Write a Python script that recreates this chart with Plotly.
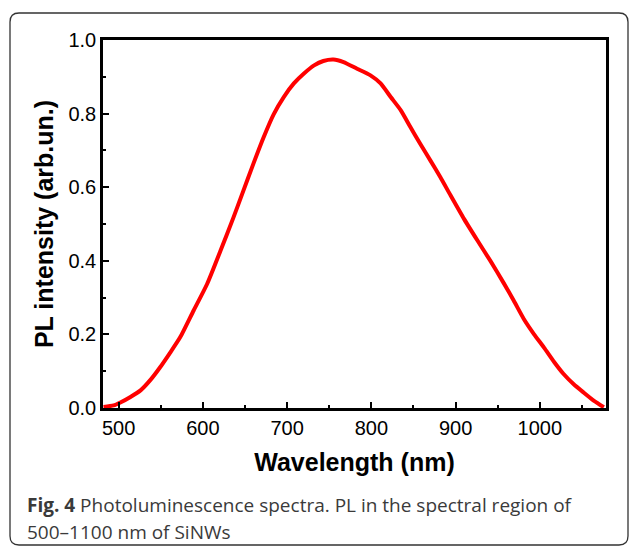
import plotly.graph_objects as go

wavelength = [482, 494, 502, 514, 526, 538, 549, 561, 573, 589, 605, 621, 636, 648,
              660, 672, 684, 696, 708, 720, 732, 743, 755, 767, 783, 799, 811, 823, 835,
              846, 858, 870, 882, 894, 910, 926, 941, 957, 969, 981, 993, 1005,
              1017, 1028, 1040, 1052, 1064, 1076]
intensity = [0.003, 0.007, 0.015, 0.030, 0.048, 0.077, 0.110, 0.150, 0.192, 0.265, 0.337,
             0.428, 0.516, 0.590, 0.664, 0.735, 0.798, 0.845, 0.882, 0.909, 0.931, 0.943,
             0.947, 0.940, 0.922, 0.904, 0.882, 0.845, 0.809, 0.765, 0.718, 0.673, 0.627,
             0.578, 0.514, 0.455, 0.401, 0.340, 0.292, 0.242, 0.201, 0.164, 0.125, 0.093,
             0.065, 0.042, 0.020, 0.002]

x_range = [481.4, 1078.6]
y_range = [0, 1]
x_ticks = [500, 600, 700, 800, 900, 1000]
y_ticks = [0.0, 0.2, 0.4, 0.6, 0.8, 1.0]
y_ticktext = ["0.0", "0.2", "0.4", "0.6", "0.8", "1.0"]

FONT = "Liberation Sans, Arial, Helvetica, sans-serif"

fig = go.Figure()
fig.add_trace(go.Scatter(x=wavelength, y=intensity, mode="lines",
                         line=dict(color="#ff0000", width=4, shape="spline", smoothing=0.6),
                         showlegend=False, hoverinfo="skip"))

W, H = 629, 548
ml, mr, mt, mb = 103, 23, 40, 140
pw, ph = W - ml - mr, H - mt - mb

def px(x):
    return (x - ml) / pw

def py(y):
    return (H - mb - y) / ph

# rounded outer frame
x0, x1 = px(10), px(628)
y1, y0 = py(13), py(545)
rx, ry = 9 / pw, 9 / ph
path = (f"M {x0+rx},{y1} L {x1-rx},{y1} Q {x1},{y1} {x1},{y1-ry} "
        f"L {x1},{y0+ry} Q {x1},{y0} {x1-rx},{y0} L {x0+rx},{y0} "
        f"Q {x0},{y0} {x0},{y0+ry} L {x0},{y1-ry} Q {x0},{y1} {x0+rx},{y1} Z")
fig.add_shape(type="path", path=path, xref="paper", yref="paper",
              line=dict(color="#333333", width=1.3), layer="below")

axis_common = dict(showgrid=False, zeroline=False, showline=True, linecolor="black",
                   linewidth=2.5, mirror=True, ticks="inside", ticklen=6, tickwidth=2,
                   tickcolor="black", tickfont=dict(family=FONT, size=20, color="black"))

fig.update_xaxes(range=x_range, tickvals=x_ticks,
                 minor=dict(dtick=50, tick0=500, ticks="inside", ticklen=3, tickwidth=2, tickcolor="black"),
                 title=dict(text="Wavelength (nm)", standoff=16,
                            font=dict(family=FONT, size=25, color="black", weight="bold")),
                 **axis_common)
fig.update_yaxes(range=y_range, tickvals=y_ticks, ticktext=y_ticktext,
                 minor=dict(dtick=0.1, tick0=0, ticks="inside", ticklen=3, tickwidth=2, tickcolor="black"),
                 title=dict(text="PL intensity (arb.un.)", standoff=8,
                            font=dict(family=FONT, size=25, color="black", weight="bold")),
                 **axis_common)

cap_font = dict(family="Open Sans, sans-serif", size=19, color="#3a3a3a")
fig.add_annotation(xref="paper", yref="paper", x=px(25), y=py(505), xanchor="left", yanchor="middle",
                   text="<b>Fig. 4</b> Photoluminescence spectra. PL in the spectral region of",
                   showarrow=False, font=cap_font)
fig.add_annotation(xref="paper", yref="paper", x=px(25), y=py(531.5), xanchor="left", yanchor="middle",
                   text="500–1100 nm of SiNWs", showarrow=False, font=cap_font)

fig.update_layout(width=W, height=H, margin=dict(l=ml, r=mr, t=mt, b=mb, autoexpand=False),
                  plot_bgcolor="white", paper_bgcolor="white")

fig.write_html("out.html", config={"displayModeBar": False},
               post_script="document.body.style.margin='0px';document.body.style.padding='0px';")
